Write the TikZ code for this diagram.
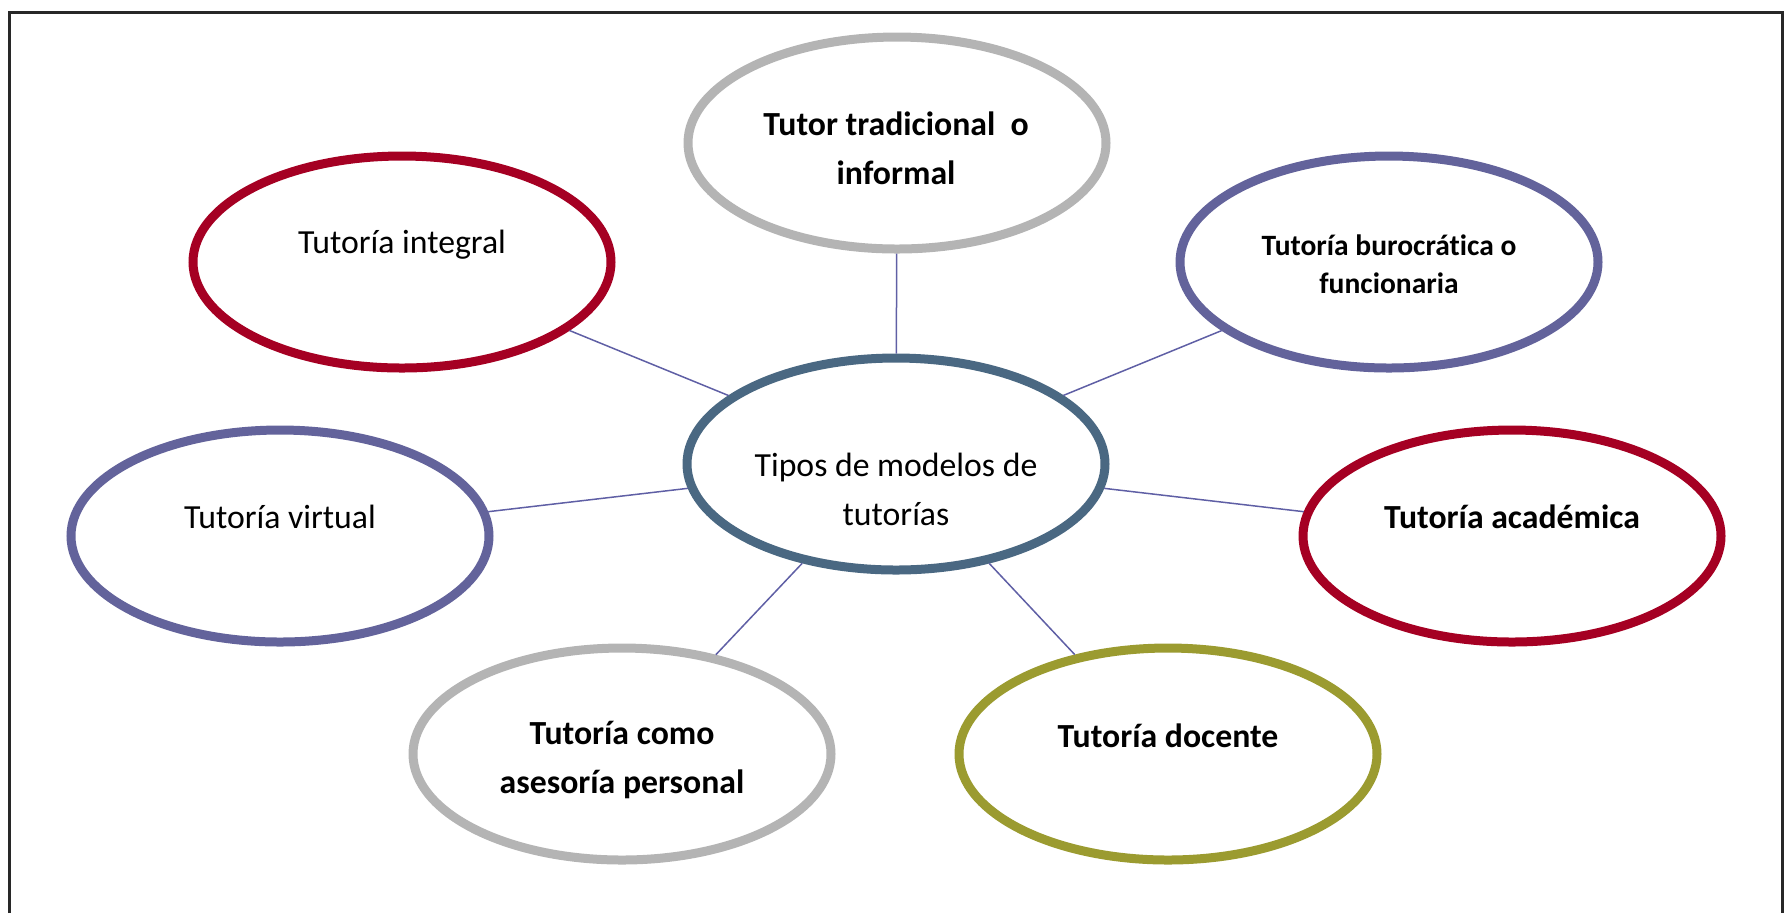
\documentclass[tikz,border=0pt]{standalone}
\usepackage{fontspec}
\setmainfont{Carlito}[Ligatures=NoCommon]
\usetikzlibrary{shapes.geometric}
\definecolor{cred}{RGB}{165,0,35}
\definecolor{cpurple}{RGB}{99,99,155}
\definecolor{cgray}{RGB}{180,180,180}
\definecolor{ccenter}{RGB}{74,104,130}
\definecolor{colive}{RGB}{155,155,48}
\definecolor{clink}{RGB}{95,95,165}
\definecolor{cframe}{RGB}{40,40,40}
\tikzset{
  bub/.style={ellipse, draw=#1, line width=0.9mm, minimum width=41.8mm,
    minimum height=21.2mm, inner sep=0pt, fill=white},
  txt/.style={inner sep=0pt, align=center, text=black,
    font=\fontsize{9.6pt}{13.9pt}\selectfont},
  btxt/.style={txt, font=\fontsize{9.6pt}{13.9pt}\selectfont\bfseries},
  stxt/.style={txt, font=\fontsize{8.4pt}{10.8pt}\selectfont\bfseries},
  conn/.style={draw=clink, line width=0.15mm},
  frame/.style={draw=cframe, line width=0.3mm}
}
\begin{document}
\begin{tikzpicture}[x=0.1mm,y=-0.1mm]
\useasboundingbox (0,0) rectangle (1791,913);
\draw[frame] (9,913) -- (9,12) -- (1782,12) -- (1782,913);

\node[bub=ccenter] (center) at (896,464) {};
\node[bub=cgray] (top) at (897,143) {};
\node[bub=cred] (integral) at (402,262) {};
\node[bub=cpurple] (buro) at (1389,262) {};
\node[bub=cpurple] (virtual) at (280,536) {};
\node[bub=cred] (acad) at (1512,536) {};
\node[bub=cgray] (ases) at (622,754) {};
\node[bub=colive] (doc) at (1168,754) {};

\draw[conn] (center) -- (top);
\draw[conn] (center) -- (integral);
\draw[conn] (center) -- (buro);
\draw[conn] (center) -- (virtual);
\draw[conn] (center) -- (acad);
\draw[conn] (center) -- (ases);
\draw[conn] (center) -- (doc);

\node[txt] (center-t) at (896,489) {Tipos de modelos de\\tutorías};
\node[btxt] (top-t) at (896,148) {Tutor tradicional\ \ o\\informal};
\node[txt] (integral-t) at (402,245) {Tutoría integral};
\node[stxt] (buro-t) at (1389,264) {Tutoría burocrática o\\funcionaria};
\node[txt] (virtual-t) at (280,517) {Tutoría virtual};
\node[btxt] (acad-t) at (1512,517) {Tutoría académica};
\node[btxt] (ases-t) at (622,760) {Tutoría como\\asesoría personal};
\node[btxt] (doc-t) at (1168,736) {Tutoría docente};
\end{tikzpicture}
\end{document}
